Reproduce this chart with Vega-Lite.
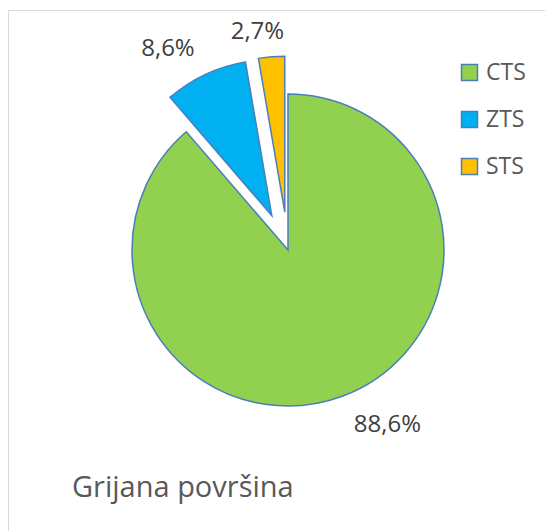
{
  "$schema": "https://vega.github.io/schema/vega-lite/v6.json",
  "autosize": "none",
  "padding": {"left": 8, "top": 10, "right": 0, "bottom": 0},
  "width": 560,
  "height": 540,
  "background": "white",
  "config": {
    "view": {"stroke": "#d9d9d9", "strokeWidth": 1},
    "font": "Open Sans"
  },
  "title": {
    "text": "Grijana površina",
    "orient": "top",
    "anchor": "start",
    "offset": 0,
    "baseline": "alphabetic",
    "dx": 64,
    "dy": 516,
    "fontSize": 29,
    "fontWeight": "normal",
    "font": "Open Sans",
    "color": "#595959"
  },
  "data": {
    "values": [
      {"label": "CTS", "value": 88.6},
      {"label": "ZTS", "value": 8.6},
      {"label": "STS", "value": 2.7}
    ]
  },
  "transform": [
    {"joinaggregate": [{"op": "sum", "field": "value", "as": "total"}]},
    {"window": [{"op": "sum", "field": "value", "as": "cum"}], "frame": [null, 0]},
    {"calculate": "datum.cum / datum.total", "as": "end"},
    {"calculate": "(datum.cum - datum.value) / datum.total", "as": "start"},
    {"calculate": "(datum.start + datum.end) / 2", "as": "midf"},
    {"calculate": "datum.label == 'CTS' ? 0 : 38", "as": "expl"},
    {"calculate": "datum.expl * sin(datum.midf * 2 * PI)", "as": "ex"},
    {"calculate": "datum.expl * cos(datum.midf * 2 * PI)", "as": "ey"},
    {"calculate": "replace(format(datum.value, '.1f'), '.', ',') + '%'", "as": "lbl"}
  ],
  "encoding": {
    "x": {"field": "ex", "type": "quantitative", "scale": {"domain": [-280, 280]}, "axis": null},
    "y": {"field": "ey", "type": "quantitative", "scale": {"domain": [-300, 240]}, "axis": null}
  },
  "layer": [
    {
      "mark": {"type": "arc", "outerRadius": 156, "stroke": "#4a7ebb", "strokeWidth": 1.5},
      "encoding": {
        "theta": {"field": "start", "type": "quantitative", "scale": {"domain": [0, 1], "range": [0, 6.283185307]}},
        "theta2": {"field": "end"},
        "color": {
          "field": "label",
          "type": "nominal",
          "scale": {"domain": ["CTS", "ZTS", "STS"], "range": ["#92D050", "#00B0F0", "#FFC000"]},
          "legend": {
            "title": null,
            "orient": "none",
            "legendX": 450,
            "legendY": 51,
            "padding": 0,
            "symbolType": "square",
            "symbolSize": 256,
            "symbolStrokeColor": "#4a7ebb",
            "symbolStrokeWidth": 1.5,
            "symbolOpacity": 1,
            "labelFont": "Open Sans",
            "labelFontSize": 23,
            "labelColor": "#595959",
            "labelOffset": 5,
            "rowPadding": 23
          }
        }
      }
    },
    {
      "transform": [{"filter": "datum.label == 'CTS'"}],
      "mark": {"type": "text", "radius": 185, "align": "center", "baseline": "middle", "dx": 35, "dy": 2, "fontSize": 24, "color": "#404040", "font": "Open Sans"},
      "encoding": {
        "theta": {"field": "midf", "type": "quantitative"},
        "text": {"field": "lbl"}
      }
    },
    {
      "transform": [{"filter": "datum.label == 'ZTS'"}],
      "mark": {"type": "text", "radius": 185, "align": "center", "baseline": "middle", "dx": -25, "dy": 1, "fontSize": 24, "color": "#404040", "font": "Open Sans"},
      "encoding": {
        "theta": {"field": "midf", "type": "quantitative"},
        "text": {"field": "lbl"}
      }
    },
    {
      "transform": [{"filter": "datum.label == 'STS'"}],
      "mark": {"type": "text", "radius": 181, "align": "center", "baseline": "middle", "dx": -12, "fontSize": 24, "color": "#404040", "font": "Open Sans"},
      "encoding": {
        "theta": {"field": "midf", "type": "quantitative"},
        "text": {"field": "lbl"}
      }
    }
  ]
}
